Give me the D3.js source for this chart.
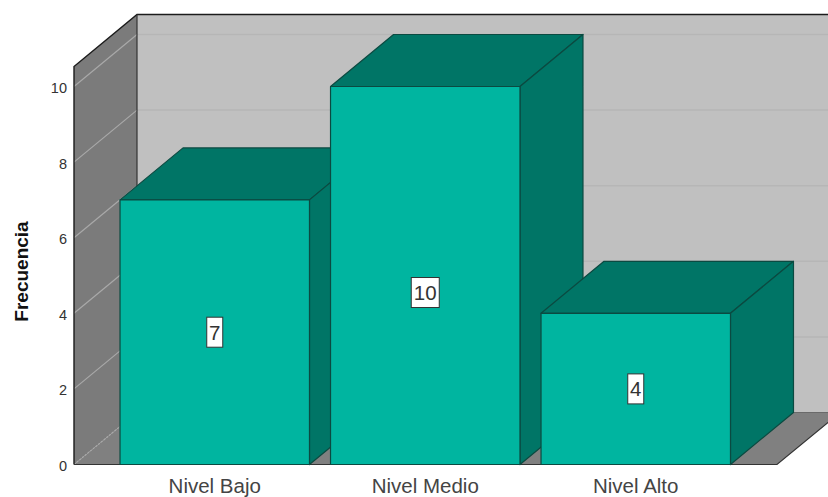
<!DOCTYPE html>
<html><head><meta charset="utf-8">
<style>html,body{margin:0;padding:0;background:#fff}svg{display:block}text{font-family:"Liberation Sans",Arial,sans-serif}</style>
<script src="https://cdn.jsdelivr.net/npm/d3@7"></script></head>
<body><svg id="c" width="828" height="497"></svg>
<script>
const categories = ["Nivel Bajo", "Nivel Medio", "Nivel Alto"];
const frequencies = [7, 10, 4];
const labelAnchors = [3.5, 4.55, 2];
const yTicks = [0, 2, 4, 6, 8, 10];
const yAxisTitle = "Frecuencia";
const yTopValue = 10.53;

const W = 828, H = 497;
const depthX = 63, depthY = -52;
const frontLeft = 74, frontRight = 777;
const svg = d3.select("#c").attr("viewBox", `0 0 ${W} ${H}`);
const y = d3.scaleLinear().domain([0, 10]).range([464.5, 86.5]);
const x = d3.scaleBand().domain(categories).range([109.5, 741]).paddingInner(0.1).paddingOuter(0.05);
const C = {back:"#c0c0c0", wall:"#7b7b7b", floor:"#808080", grid:"#b6b6b6", wallGrid:"#a9a9a9",
  front:"#00b5a0", dark:"#007566", stroke:"#0b4a41", frame:"#1c1c1c"};
const line = d3.line();
const poly = pts => line(pts) + "Z";
const topY = y(yTopValue);

svg.append("path").attr("d", poly([[frontLeft+depthX, topY+depthY],[W+20, topY+depthY],[W+20, y(0)+depthY],[frontLeft+depthX, y(0)+depthY]])).attr("fill", C.back);
svg.append("path").attr("d", poly([[frontLeft, topY],[frontLeft+depthX, topY+depthY],[frontLeft+depthX, y(0)+depthY],[frontLeft, y(0)]])).attr("fill", C.wall);
svg.append("path").attr("d", poly([[frontLeft, y(0)],[frontLeft+depthX, y(0)+depthY],[frontRight+depthX, y(0)+depthY],[frontRight, y(0)]])).attr("fill", C.floor);

const g = svg.append("g");
g.selectAll("line.b").data(yTicks.filter(d => d > 0)).join("line").attr("class","b")
  .attr("x1", frontLeft+depthX).attr("x2", W+20)
  .attr("y1", d => y(d)+depthY).attr("y2", d => y(d)+depthY)
  .attr("stroke", C.grid).attr("stroke-width", 1.5);
g.selectAll("line.w").data(yTicks).join("line").attr("class","w")
  .attr("x1", frontLeft).attr("x2", frontLeft+depthX)
  .attr("y1", d => y(d)).attr("y2", d => y(d)+depthY)
  .attr("stroke", C.wallGrid).attr("stroke-width", 1.2)
  .attr("stroke-dasharray", d => d === 0 ? "2 1.5" : null);

svg.append("path").attr("d", line([[frontLeft, y(0)],[frontLeft, topY],[frontLeft+depthX, topY+depthY],[W+20, topY+depthY]]))
  .attr("fill","none").attr("stroke", C.frame).attr("stroke-width", 1.4);
svg.append("line").attr("x1", frontLeft+depthX).attr("x2", frontLeft+depthX).attr("y1", topY+depthY).attr("y2", y(0)+depthY)
  .attr("stroke", "#333").attr("stroke-width", 1.2);
svg.append("path").attr("d", line([[frontLeft, y(0)],[frontRight, y(0)],[frontRight+depthX, y(0)+depthY]]))
  .attr("fill","none").attr("stroke", "#333").attr("stroke-width", 1.2);
svg.append("line").attr("x1", frontLeft+depthX+600).attr("x2", W+20).attr("y1", y(0)+depthY).attr("y2", y(0)+depthY)
  .attr("stroke", "#6a6a6a").attr("stroke-width", 1);

const data = categories.map((c, i) => ({c, v: frequencies[i], a: labelAnchors[i]}));
const bars = svg.append("g").selectAll("g").data(data).join("g")
  .attr("stroke", C.stroke).attr("stroke-width", 1.2).attr("stroke-linejoin", "round");
bars.append("path").attr("fill", C.dark).attr("d", d => {
  const l = x(d.c), r = l + x.bandwidth(), t = y(d.v);
  return poly([[l,t],[l+depthX,t+depthY],[r+depthX,t+depthY],[r,t]]);
});
bars.append("path").attr("fill", C.dark).attr("d", d => {
  const r = x(d.c) + x.bandwidth(), t = y(d.v);
  return poly([[r,t],[r+depthX,t+depthY],[r+depthX,y(0)+depthY],[r,y(0)]]);
});
bars.append("rect").attr("fill", C.front)
  .attr("x", d => x(d.c)).attr("width", x.bandwidth())
  .attr("y", d => y(d.v)).attr("height", d => y(0) - y(d.v));

const lab = svg.append("g").selectAll("g").data(data).join("g")
  .attr("transform", d => `translate(${x(d.c)+x.bandwidth()/2},${y(d.a)})`);
lab.append("rect")
  .attr("x", d => d.v >= 10 ? -14 : -8).attr("width", d => d.v >= 10 ? 28 : 16)
  .attr("y", -15).attr("height", 30)
  .attr("fill", "#fff").attr("stroke", "#333").attr("stroke-width", 1);
lab.append("text").text(d => d.v).attr("text-anchor","middle").attr("dy","0.36em")
  .attr("font-size", 20.5).attr("fill", "#333");

const axY = svg.append("g").attr("transform", `translate(${frontLeft},0)`)
  .call(d3.axisLeft(y).tickValues(yTicks).tickSize(0).tickPadding(7).tickFormat(d3.format("d")));
axY.select(".domain").remove();
axY.selectAll("text").attr("font-size", 14.5).attr("fill", "#333").attr("dy", "0.42em").style("font-family", '"Liberation Sans",Arial,sans-serif');

const axX = svg.append("g").attr("transform", `translate(0,${y(0)})`)
  .call(d3.axisBottom(x).tickSize(0).tickPadding(13.5));
axX.select(".domain").remove();
axX.selectAll("text").attr("font-size", 20.5).attr("fill", "#444").style("font-family", '"Liberation Sans",Arial,sans-serif');

svg.append("text").text(yAxisTitle)
  .attr("transform", "translate(28,271.5) rotate(-90)").attr("text-anchor","middle")
  .attr("font-size", 19).attr("font-weight","bold").attr("fill","#111");
</script></body></html>
